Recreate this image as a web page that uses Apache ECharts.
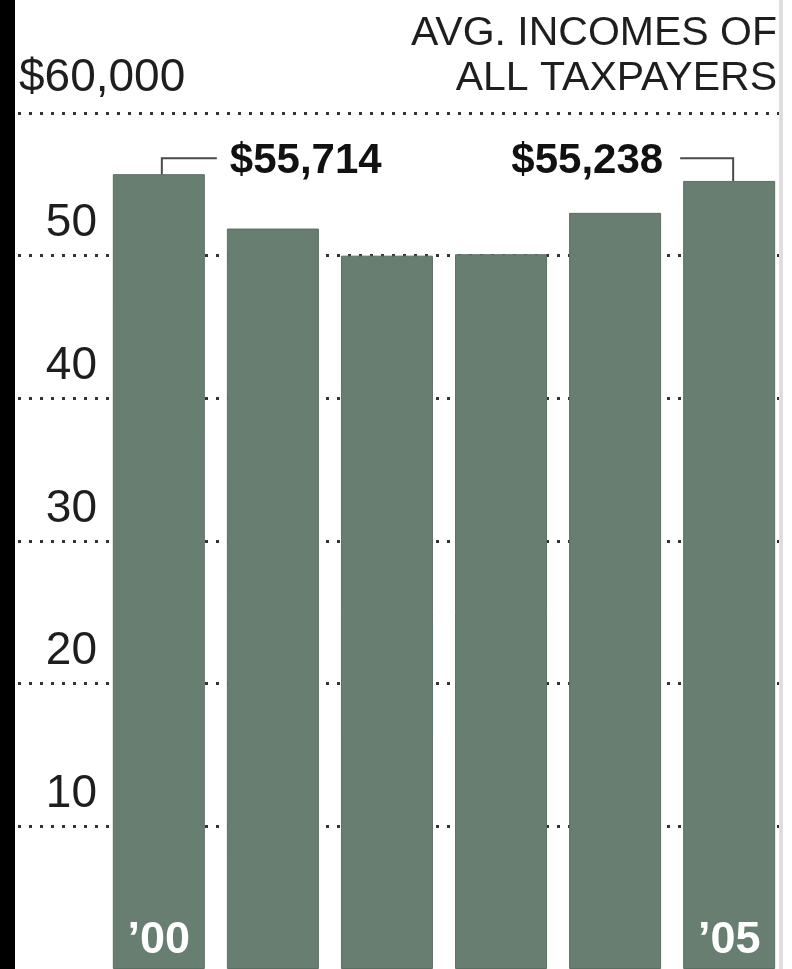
<!DOCTYPE html>
<html>
<head>
<meta charset="utf-8">
<style>
  html, body { margin: 0; padding: 0; background: #ffffff; }
  #chart { width: 792px; height: 969px; }
</style>
<script src="https://cdn.jsdelivr.net/npm/echarts@6/dist/echarts.min.js"></script>
</head>
<body>
<div id="chart"></div>
<script>
// Average incomes of all taxpayers, thousands of dollars
var years = ['2000', '2001', '2002', '2003', '2004', '2005'];
var incomes = [55.714, 51.9, 50.0, 50.1, 53.0, 55.238];
var labeledYears = [0, 5];          // bars with a call-out value
var yearLabelsShown = [0, 5];       // bars with a year tag inside
var yMin = 0, yMax = 60, yStep = 10;

var FONT = '"Liberation Sans", Arial, Helvetica, sans-serif';
var chart = echarts.init(document.getElementById('chart'), null, { renderer: 'canvas' });

function money(v) {
  return '$' + Math.round(v * 1000).toLocaleString('en-US');
}

var maxVal = Math.max.apply(null, incomes);
var calloutData = labeledYears.map(function (i) { return [i, incomes[i]]; });

var option = {
  backgroundColor: '#ffffff',
  animation: false,
  title: {
    text: 'AVG. INCOMES OF\nALL TAXPAYERS',
    left: 772,
    top: 6,
    textAlign: 'right',
    textStyle: {
      fontFamily: FONT, fontSize: 41, fontWeight: 'normal',
      lineHeight: 45, color: '#1e1e1e', align: 'right'
    }
  },
  graphic: [
    { type: 'rect', left: 0, top: 0, shape: { width: 15, height: 969 }, style: { fill: '#000000' }, z: 100 },
    { type: 'rect', left: 779, top: 0, shape: { width: 4, height: 969 }, style: { fill: '#dedede' }, z: 100 }
  ],
  grid: [
    { left: 18, right: 12, top: 113, bottom: -2, containLabel: false },
    { left: 101.8, right: 5.8, top: 113, bottom: -2, containLabel: false }
  ],
  xAxis: [
    { gridIndex: 0, type: 'value', min: 0, max: 1, show: false },
    {
      gridIndex: 1, type: 'category', data: years,
      axisLine: { show: false }, axisTick: { show: false },
      axisLabel: {
        inside: true, margin: 28, verticalAlign: 'middle',
        color: '#ffffff', fontFamily: FONT, fontSize: 45, fontWeight: 'bold',
        interval: 0,
        formatter: function (v, idx) {
          return yearLabelsShown.indexOf(idx) >= 0 ? '\u2019' + v.slice(2) : '';
        }
      },
      z: 10
    }
  ],
  yAxis: [
    {
      gridIndex: 0, type: 'value', position: 'left', min: yMin, max: yMax, interval: yStep,
      axisLine: { show: false }, axisTick: { show: false },
      splitLine: { show: true, showMinLine: false, lineStyle: { color: '#333333', width: 3, type: [3, 8] } },
      axisLabel: {
        inside: true, margin: 1, align: 'left', verticalAlign: 'middle',
        lineHeight: 70,
        color: '#1e1e1e', fontFamily: FONT, fontSize: 46,
        formatter: function (v) { return v === yMax ? money(v) + '\n ' : ''; }
      }
    },
    {
      gridIndex: 0, type: 'value', position: 'left', offset: 0, min: yMin, max: yMax, interval: yStep,
      axisLine: { show: false }, axisTick: { show: false }, splitLine: { show: false },
      axisLabel: {
        inside: true, margin: 79, align: 'right', verticalAlign: 'middle',
        lineHeight: 64,
        color: '#1e1e1e', fontFamily: FONT, fontSize: 46,
        formatter: function (v) { return (v > yMin && v < yMax) ? String(v) + '\n ' : ''; }
      }
    },
    { gridIndex: 1, type: 'value', min: yMin, max: yMax, interval: yStep, show: false, splitLine: { show: false } }
  ],
  series: [
    {
      type: 'bar', xAxisIndex: 1, yAxisIndex: 2,
      data: incomes, barWidth: 92,
      itemStyle: { color: '#687e71', borderColor: '#5b7064', borderWidth: 1 },
      z: 2
    },
    {
      type: 'custom', xAxisIndex: 1, yAxisIndex: 2,
      data: calloutData, z: 5,
      renderItem: function (params, api) {
        var idx = api.value(0), val = api.value(1);
        var top = api.coord([idx, val]);
        var level = api.coord([idx, maxVal])[1] - 16;
        var cx = top[0];
        var right = idx < years.length / 2;
        var vx = right ? cx + 3 : cx + 4;
        var hx = right ? cx + 58 : cx - 49;
        var tx = right ? cx + 71 : cx - 66;
        return {
          type: 'group',
          children: [
            {
              type: 'polyline',
              shape: { points: [[vx, top[1]], [vx, level], [hx, level]] },
              style: { stroke: '#4a4a4a', lineWidth: 2, fill: null }
            },
            {
              type: 'text',
              style: {
                text: money(val), x: tx, y: level + 3,
                align: right ? 'left' : 'right', verticalAlign: 'middle',
                font: 'bold 42px ' + FONT, fill: '#111111'
              }
            }
          ]
        };
      }
    }
  ]
};
chart.setOption(option);
</script>
</body>
</html>
